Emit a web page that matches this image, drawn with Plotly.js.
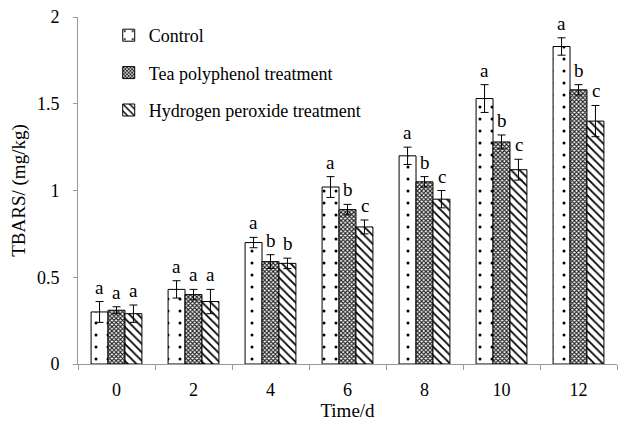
<!DOCTYPE html>
<html><head><meta charset="utf-8">
<script src="https://cdn.plot.ly/plotly-3.0.1.min.js"></script>
<style>html,body{margin:0;padding:0;background:#fff}</style>
</head><body>
<div id="chart" style="width:622px;height:426px"></div>
<script>
var days = ["0","2","4","6","8","10","12"];
var controlVals = [0.30,0.43,0.70,1.02,1.20,1.53,1.83];
var controlErr  = [0.06,0.05,0.03,0.06,0.05,0.08,0.05];
var teaVals     = [0.31,0.40,0.59,0.89,1.05,1.28,1.58];
var teaErr      = [0.02,0.03,0.04,0.03,0.03,0.04,0.03];
var h2o2Vals    = [0.29,0.36,0.58,0.79,0.95,1.12,1.40];
var h2o2Err     = [0.05,0.07,0.03,0.04,0.05,0.06,0.09];
var controlLetters = ["a","a","a","a","a","a","a"];
var teaLetters     = ["a","a","b","b","b","b","b"];
var h2o2Letters    = ["a","a","b","c","c","c","c"];
var seriesNames = ["Control","Tea polyphenol treatment","Hydrogen peroxide treatment"];

var FONT = "Liberation Serif";
function errObj(arr){return {type:"data",array:arr,visible:true,color:"#000",thickness:1,width:4};}
var traces = [
 {type:"bar",name:seriesNames[0],legendgroup:"g1",x:days,y:controlVals,error_y:errObj(controlErr),
  marker:{color:"#fff",line:{color:"#000",width:1},pattern:{shape:".",fgcolor:"#000",bgcolor:"#fff",size:12,solidity:0.05}}},
 {type:"bar",name:seriesNames[1],legendgroup:"g2",x:days,y:teaVals,error_y:errObj(teaErr),
  marker:{color:"#fff",line:{color:"#000",width:1},pattern:{shape:"x",fgcolor:"#222",bgcolor:"#fff",size:3,solidity:0.6}}},
 {type:"bar",name:seriesNames[2],legendgroup:"g3",x:days,y:h2o2Vals,error_y:errObj(h2o2Err),
  marker:{color:"#fff",line:{color:"#000",width:1},pattern:{shape:"\\",fgcolor:"#000",bgcolor:"#fff",size:6,solidity:0.3}}}
];
var ann = [];
var groups = [[controlVals,controlErr,controlLetters,-17],[teaVals,teaErr,teaLetters,0],[h2o2Vals,h2o2Err,h2o2Letters,17]];
groups.forEach(function(g){
  for (var i=0;i<days.length;i++){
    ann.push({x:i,y:g[0][i]+g[1][i],xref:"x",yref:"y",text:g[2][i],showarrow:false,
      yanchor:"bottom",xshift:g[3],yshift:2,font:{family:FONT,size:19,color:"#000"}});
  }
});
var layout = {
  width:622,height:426,
  margin:{l:78,r:5,t:17,b:62},
  paper_bgcolor:"#fff",plot_bgcolor:"#fff",
  font:{family:FONT,size:18,color:"#000"},
  barmode:"group",bargap:0.34,bargroupgap:0,
  showlegend:true,
  legend:{x:0.057,y:1.0,xanchor:"left",yanchor:"top",bgcolor:"rgba(0,0,0,0)",
    font:{family:FONT,size:18,color:"#000"},tracegroupgap:11,itemwidth:30,traceorder:"grouped"},
  xaxis:{type:"category",showline:true,linecolor:"#999",linewidth:1,ticks:"outside",tickson:"boundaries",
    ticklen:5,tickcolor:"#999",showgrid:false,zeroline:false,ticklabelstandoff:9,
    tickfont:{family:FONT,size:18},title:{text:"Time/d",font:{family:FONT,size:19},standoff:5}},
  yaxis:{range:[0,2],tickvals:[0,0.5,1,1.5,2],ticktext:["0","0.5","1","1.5","2"],showline:true,linecolor:"#999",
    linewidth:1,ticks:"outside",ticklen:4,tickcolor:"#999",showgrid:false,zeroline:false,ticklabelstandoff:10,
    tickfont:{family:FONT,size:18},title:{text:"TBARS/ (mg/kg)",font:{family:FONT,size:19},standoff:6}},
  annotations:ann
};
Plotly.newPlot("chart",traces,layout,{displayModeBar:false,staticPlot:true});
</script>
</body></html>
